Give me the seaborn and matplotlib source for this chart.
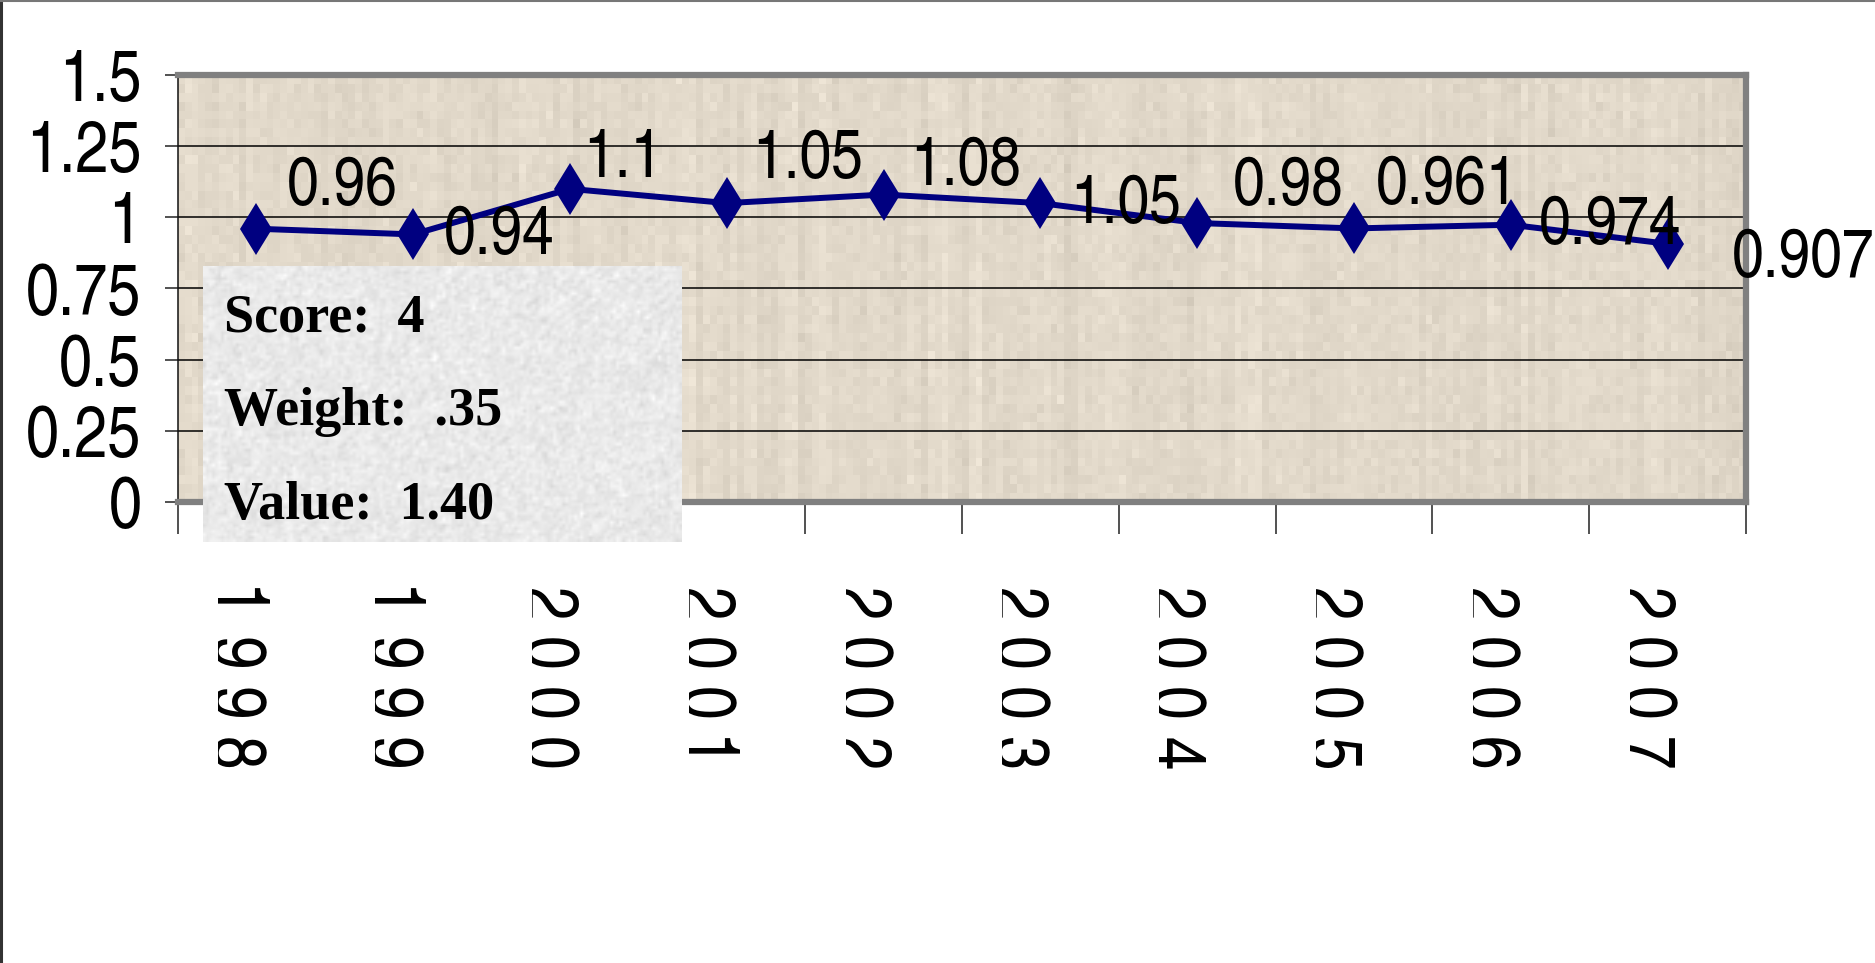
import numpy as np
import pandas as pd
import matplotlib
matplotlib.use("Agg")
import matplotlib.pyplot as plt
import seaborn as sns
from matplotlib.lines import Line2D
from matplotlib.transforms import Bbox, offset_copy

# ---- data -------------------------------------------------------------
years = ["1998", "1999", "2000", "2001", "2002", "2003", "2004", "2005", "2006", "2007"]
values = [0.96, 0.94, 1.1, 1.05, 1.08, 1.05, 0.98, 0.961, 0.974, 0.907]
y_ticks = [0, 0.25, 0.5, 0.75, 1, 1.25, 1.5]
info_lines = ["Score:  4", "Weight:  .35", "Value:  1.40"]

# where each value label sits relative to its point (pixels right, up; text centre)
label_offsets = [(86, 49), (86, 5), (53, 37), (81, 50), (82, 35),
                 (85, 5), (91, 43), (93, 49), (99, 6), (136, -8)]

W, H = 1875, 963
sns.set_theme(style="white")
narrow = ["TeX Gyre Heros Cn", "Liberation Sans", "DejaVu Sans"]
serif = ["Liberation Serif", "DejaVu Serif"]
plt.rcParams["font.family"] = narrow

fig = plt.figure(figsize=(W / 100, H / 100), dpi=100)
fig.patch.set_facecolor("white")


def px_rect(x0, y0, x1, y1):
    """Pixel box (top-left origin) -> figure-fraction rectangle."""
    return [x0 / W, 1 - y1 / H, (x1 - x0) / W, (y1 - y0) / H]


ax = fig.add_axes(px_rect(178, 75, 1746, 502))

# parchment-like plot background
rng = np.random.default_rng(11)
cols = rng.normal(0, 1, (1, 230))
blocks = rng.normal(0, 1, (48, 230))
tex = 0.5 * cols + 0.5 * blocks
base = np.array([226, 217, 202]) / 255.0
img = np.clip(base[None, None, :] + 0.024 * tex[:, :, None], 0, 1)
ax.imshow(img, extent=(-0.5, 9.5, 0, 1.5), aspect="auto",
          interpolation="nearest", zorder=0)

df = pd.DataFrame({"pos": np.arange(len(years)), "value": values})
sns.lineplot(data=df, x="pos", y="value", ax=ax, color="#000080",
             linewidth=4.3, marker="d", markersize=26.5,
             markeredgewidth=0, zorder=3)

ax.set_xlim(-0.5, len(years) - 0.5)
ax.set_ylim(0, 1.5)
ax.set_xlabel("")
ax.set_ylabel("")
ax.set_xticks(np.arange(-0.5, len(years), 1.0))
ax.set_yticks(y_ticks)
ax.set_yticklabels([f"{t:g}" for t in y_ticks])
ax.tick_params(axis="x", bottom=True, length=23, width=1.1, color="#222222",
               labelbottom=False)
ax.tick_params(axis="y", left=True, length=9.4, width=1.1, color="#222222",
               pad=17, labelcolor="black", labelsize=52)
ax.yaxis.grid(True, color="black", linewidth=1.1)
ax.xaxis.grid(False)
ax.set_axisbelow(True)

ax.spines["left"].set_color("#111111")
ax.spines["left"].set_linewidth(1.1)
for side in ("top", "right", "bottom"):
    ax.spines[side].set_color("#808080")
    ax.spines[side].set_linewidth(4.5)

# value labels
lab_size = 50
half_digit = 0.36 * lab_size / 0.72  # half the digit height, in pixels
for i, v in enumerate(values):
    dx, dy = label_offsets[i]
    ax.annotate(f"{v:g}", xy=(i, v), xytext=(dx, dy - half_digit),
                textcoords="offset pixels", ha="center", va="baseline",
                fontsize=lab_size, color="black", zorder=4,
                annotation_clip=False)

# year labels: one digit per row, each turned a quarter clockwise,
# with the foot of every digit trimmed by the label strip
for i, yr in enumerate(years):
    x_px = ax.transData.transform((i, 0))[0]
    clip = Bbox.from_extents(x_px - 38, 0, x_px + 60, H)
    for k, ch in enumerate(yr):
        tr = offset_copy(ax.transData, fig=fig, x=-46, y=-(102 + 50 * k), units="dots")
        t = fig.text(i, 0, ch, transform=tr, rotation=-90, rotation_mode="anchor",
                     ha="center", va="baseline", fontsize=53, color="black")
        t.set_clip_box(clip)
        t.set_clip_on(True)

# score box with a grainy grey fill
box = fig.add_axes(px_rect(203, 266, 682, 542), zorder=5)
g = rng.normal(0, 1, (92, 160))
g = 0.5 * g + 0.25 * np.roll(g, 1, axis=0) + 0.25 * np.roll(g, 1, axis=1)
grey = np.clip(0.915 + 0.035 * g, 0, 1)
box.imshow(np.dstack([grey, grey, grey]), aspect="auto", interpolation="bilinear")
box.set_axis_off()

for k, line in enumerate(info_lines):
    fig.text(224 / W, 1 - (331 + 94 * k) / H, line, family=serif,
             fontweight="bold", fontsize=39, color="black", zorder=6,
             ha="left", va="baseline")

# outer frame edges
fig.add_artist(Line2D([1 / W, 1 / W], [0, 1], transform=fig.transFigure,
                      color="#333333", linewidth=2.2))
fig.add_artist(Line2D([0, 1], [1 - 0.6 / H, 1 - 0.6 / H], transform=fig.transFigure,
                      color="#777777", linewidth=1.5))

fig.savefig("out.png", dpi=100, facecolor="white")
